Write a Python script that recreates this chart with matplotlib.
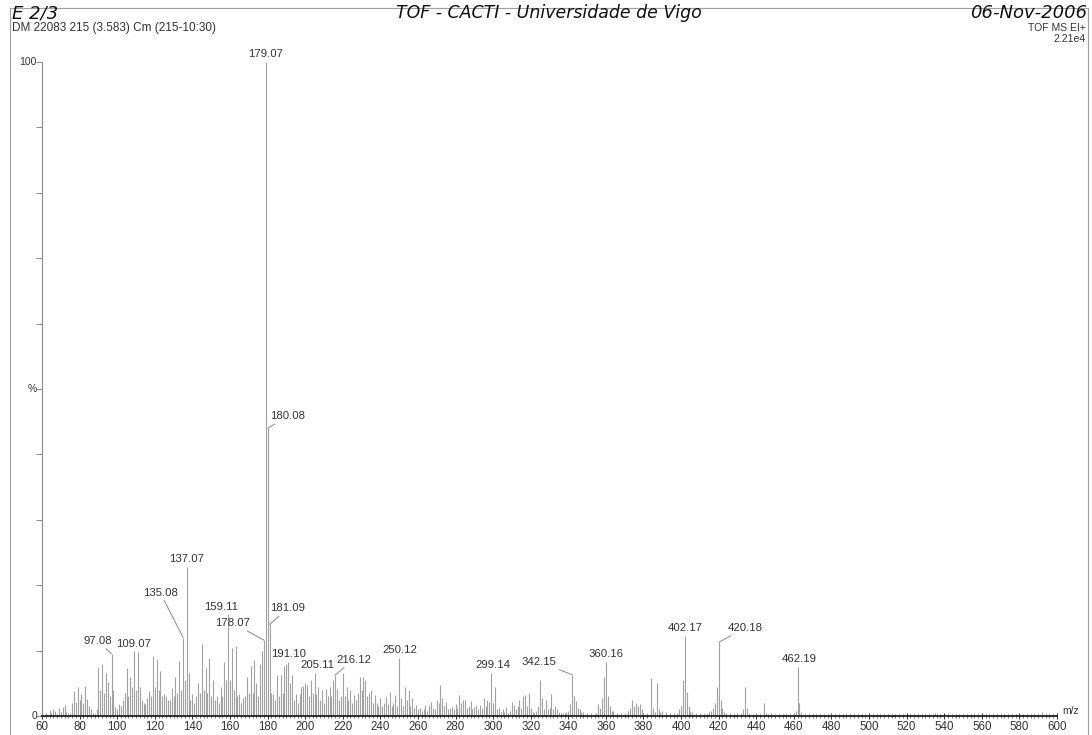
import matplotlib
matplotlib.use("Agg")
import matplotlib.pyplot as plt
from matplotlib.lines import Line2D
from matplotlib.ticker import MultipleLocator

# ---------------- data (m/z, relative intensity %) ----------------
mz_a = [62, 64, 65, 66, 67, 69, 70, 71, 72, 73,
        75, 76, 77, 78, 79, 80, 81, 82, 83, 84,
        85, 86, 87, 89, 90, 91, 92, 93, 94, 95,
        96, 97.08, 98, 99, 100, 101, 102, 103, 104, 105,
        106, 107, 108, 109.07, 110, 111, 112, 113, 114, 115,
        116, 117, 118, 119, 120, 121, 122, 123, 124, 125,
        126, 127, 128, 129, 130]
int_a = [0.5, 0.9, 0.4, 1.0, 0.8, 1.2, 0.6, 1.4, 1.7, 0.6,
         0.4, 2.0, 3.8, 2.2, 4.4, 2.5, 3.3, 2.0, 4.6, 2.6,
         1.5, 1.1, 0.5, 1.0, 7.5, 4.0, 7.9, 3.5, 6.6, 5.2,
         3.0, 9.5, 4.0, 1.3, 1.0, 1.8, 1.5, 2.5, 3.5, 7.4,
         3.0, 5.9, 4.5, 10.0, 4.0, 9.8, 4.5, 2.5, 2.0, 1.8,
         2.8, 3.8, 3.0, 9.2, 4.5, 8.7, 4.0, 6.9, 3.0, 3.3,
         3.0, 2.5, 2.5, 4.3, 3.0]

mz_b = [131, 132, 133, 134, 135.08, 136, 137.07, 138, 139, 140,
        141, 142, 143, 144, 145, 146, 147, 148, 149, 150,
        151, 152, 153, 154, 155, 156, 157, 158, 159.11, 160,
        161, 162, 163, 164, 165, 166, 167, 168, 169, 170,
        171, 172, 173, 174, 175, 176, 177, 178.07, 179.07, 180.08,
        181.09, 182, 183, 184, 185, 186, 187, 188, 189, 190,
        191.10, 192, 193, 194, 195, 196, 197, 198, 199, 200]
int_b = [6.0, 3.5, 8.4, 4.0, 12.0, 5.5, 22.8, 6.6, 2.5, 3.3,
         2.0, 3.0, 5.0, 3.5, 11.0, 4.0, 7.4, 3.5, 8.8, 3.0,
         5.5, 2.5, 3.0, 2.0, 4.5, 3.0, 8.3, 5.5, 15.6, 5.5,
         10.4, 4.0, 10.7, 3.0, 3.3, 2.0, 2.8, 3.0, 6.0, 3.5,
         7.6, 3.5, 8.5, 5.0, 3.0, 7.9, 10.0, 11.6, 100.0, 44.0,
         14.0, 3.5, 3.3, 2.5, 6.3, 3.0, 6.3, 3.5, 7.6, 8.0,
         8.2, 5.0, 6.3, 2.5, 3.3, 2.0, 3.3, 4.5, 4.6, 5.0]

mz_c = [201, 202, 203, 204, 205.11, 206, 207, 208, 209, 210,
        211, 212, 213, 214, 215, 216.12, 217, 218, 219, 220,
        221, 222, 223, 224, 225, 226, 227, 228, 229, 230,
        231, 232, 233, 234, 235, 236, 237, 238, 239, 240,
        241, 242, 243, 244, 245, 246, 247, 248, 249, 250.12,
        251, 252, 253, 254, 255, 256, 257, 258, 259, 260,
        261, 262, 263, 264, 265, 266, 267, 268, 269, 270]
int_c = [4.7, 3.0, 5.5, 3.5, 6.5, 3.3, 4.5, 2.5, 4.0, 2.0,
         4.2, 3.0, 4.5, 3.0, 5.5, 6.3, 4.2, 2.5, 3.0, 6.5,
         3.0, 4.5, 2.5, 4.0, 2.0, 3.2, 2.5, 3.5, 6.0, 4.0,
         6.0, 5.5, 3.0, 3.5, 4.0, 2.0, 3.2, 2.0, 1.5, 2.7,
         1.5, 2.0, 2.9, 1.8, 3.7, 1.5, 2.0, 3.2, 1.5, 8.8,
         2.7, 1.5, 4.5, 2.5, 4.0, 1.5, 2.7, 1.2, 1.7, 1.0,
         1.2, 0.8, 1.0, 1.7, 0.8, 1.7, 2.2, 1.2, 1.0, 2.5]

mz_d = [271, 272, 273, 274, 275, 276, 277, 278, 279, 280,
        281, 282, 283, 284, 285, 286, 287, 288, 289, 290,
        291, 292, 293, 294, 295, 296, 297, 298, 299.14, 300,
        301, 302, 303, 304, 305, 306, 307, 308, 309, 310,
        311, 312, 313, 314, 315, 316, 317, 318, 319, 320,
        321, 322, 323, 324, 325, 326, 327, 328, 329, 330,
        331, 332, 333, 334, 335, 336, 337, 338, 339, 340]
int_d = [2.0, 4.7, 2.7, 1.5, 2.2, 1.0, 1.2, 1.4, 1.0, 1.9,
         1.2, 3.2, 2.0, 2.4, 2.4, 1.2, 1.5, 2.3, 1.0, 1.4,
         1.7, 1.0, 1.7, 1.2, 2.7, 1.5, 2.4, 2.2, 6.6, 2.0,
         4.5, 1.0, 1.2, 0.6, 1.0, 0.6, 1.4, 0.5, 0.8, 2.2,
         1.7, 1.0, 1.5, 2.4, 1.2, 3.0, 3.2, 1.5, 3.5, 1.2,
         0.6, 0.5, 0.8, 1.5, 5.5, 2.7, 1.0, 2.4, 1.0, 1.2,
         3.3, 1.0, 1.5, 1.0, 0.6, 0.4, 0.5, 0.4, 0.6, 0.8]

mz_e = [341, 342.15, 343, 344, 345, 346, 347, 348, 350, 352,
        355, 356, 357, 358, 359, 360.16, 361, 362, 363, 364,
        366, 368, 370, 372, 373, 374, 375, 376, 377, 378,
        379, 380, 382, 384, 385, 386, 387, 388, 389, 390,
        392, 394, 396, 398, 399, 400, 401, 402.17, 403, 404,
        405, 406, 408, 410, 412, 415, 416, 417, 418, 419,
        420.18, 421, 422, 423, 424, 426, 430, 432, 433, 434,
        435, 436, 440, 444, 445, 448, 455, 460, 461, 462.19,
        463, 464, 470]
int_e = [1.9, 6.3, 3.0, 2.3, 1.2, 1.0, 0.6, 0.6, 0.4, 0.4,
         0.5, 1.9, 1.2, 2.7, 6.0, 8.3, 3.0, 1.5, 0.8, 0.8,
         0.5, 0.5, 0.4, 0.8, 1.2, 2.5, 1.5, 2.0, 1.6, 1.8,
         1.0, 0.5, 0.4, 5.8, 1.2, 0.6, 5.0, 1.0, 0.6, 0.8,
         0.6, 0.5, 0.4, 0.5, 1.0, 1.5, 5.5, 12.3, 3.7, 1.5,
         0.8, 0.6, 0.5, 0.4, 0.4, 0.6, 0.8, 1.2, 2.0, 4.4,
         11.3, 2.5, 1.2, 0.6, 0.5, 0.4, 0.4, 0.5, 1.0, 4.4,
         1.2, 0.5, 0.4, 2.0, 0.5, 0.4, 0.3, 0.4, 0.8, 7.5,
         2.0, 0.6, 0.3]

mz_f = [480, 495, 510, 535, 550, 565, 580, 592]
int_f = [0.3, 0.2, 0.2, 0.5, 0.2, 0.2, 0.2, 0.6]

# labelled peaks and the pixel offset of their labels (dx, dy)
peak_labels = ["97.08", "109.07", "135.08", "137.07", "159.11", "178.07",
               "179.07", "180.08", "181.09", "191.10", "205.11", "216.12",
               "250.12", "299.14", "342.15", "360.16", "402.17", "420.18",
               "462.19"]
label_dx = [-14, -1, -23, 0, -7, -31, 0, 20, 18, 0, 3, 18, 0, 1, -33, 0, 0, 26, 1]
label_dy = [8, 2, 40, 3, 2, 12, 3, 7, 11, 3, 3, 10, 3, 3, 8, 3, 3, 9, 3]

x_ticks = list(range(60, 601, 20))

# ---------------- figure ----------------
W, H, DPI = 1092, 735, 100
fig = plt.figure(figsize=(W / DPI, H / DPI), dpi=DPI)
fig.patch.set_facecolor("white")

ax = fig.add_axes([42 / W, 1 - 716 / H, (1057 - 42) / W, (716 - 62) / H])
ax.set_facecolor("white")

mz_all = mz_a + mz_b + mz_c + mz_d + mz_e + mz_f
int_all = int_a + int_b + int_c + int_d + int_e + int_f
ax.vlines(mz_all, 0, int_all, colors="#a2a2a2", linewidth=0.8)

ax.set_xlim(60, 600)
ax.set_ylim(0, 100)

# spines
for s in ["top", "right"]:
    ax.spines[s].set_visible(False)
ax.spines["left"].set_color("#8a8a8a")
ax.spines["left"].set_linewidth(0.8)
ax.spines["bottom"].set_color("#202020")
ax.spines["bottom"].set_linewidth(1.3)

# y ticks
ax.yaxis.set_major_locator(MultipleLocator(10))
ax.set_yticklabels([])
ax.tick_params(axis="y", direction="out", length=4, width=0.7, color="#8a8a8a",
               labelsize=0)
for yv, txt in [(0, "0"), (50, "%"), (100, "100")]:
    ax.text(-0.005, yv, txt, transform=ax.get_yaxis_transform(), ha="right",
            va="center", fontsize=7.5, color="#333333", family="Liberation Sans")

# x ticks
ax.set_xticks(x_ticks)
ax.set_xticklabels([str(v) for v in x_ticks], fontsize=8.3, color="#333333",
                   family="Liberation Sans")
ax.xaxis.set_minor_locator(MultipleLocator(2))
ax.tick_params(axis="x", which="major", direction="inout", length=5, width=0.7,
               color="#303030", pad=1)
ax.tick_params(axis="x", which="minor", direction="inout", length=3, width=0.5,
               color="#404040")
ax.text(1.005, 0.0, "m/z", transform=ax.transAxes, ha="left", va="bottom",
        fontsize=7.5, color="#333333", family="Liberation Sans")

# peak labels
lab_set = {float(l): (dx, dy) for l, dx, dy in zip(peak_labels, label_dx, label_dy)}
px2pt = 72.0 / DPI
for m, h in zip(mz_all, int_all):
    key = round(float(m), 2)
    if key in lab_set:
        dx, dy = lab_set[key]
        leader = abs(dx) > 8 or dy > 5
        ax.annotate(f"{m:.2f}", xy=(m, h), xytext=(dx * px2pt, dy * px2pt),
                    textcoords="offset points", ha="center", va="bottom",
                    fontsize=8.2, color="#333333", family="Liberation Sans",
                    arrowprops=(dict(arrowstyle="-", color="#8a8a8a", lw=0.7,
                                     shrinkA=0, shrinkB=0) if leader else None),
                    annotation_clip=False)

# header texts
fig.text(12 / W, 1 - 13 / H, "E 2/3", ha="left", va="center", fontsize=13,
         style="italic", family="DejaVu Sans", color="#111111")
fig.text(549 / W, 1 - 13 / H, "TOF - CACTI - Universidade de Vigo", ha="center",
         va="center", fontsize=12.5, style="italic", family="DejaVu Sans",
         color="#111111")
fig.text(1087 / W, 1 - 13 / H, "06-Nov-2006", ha="right", va="center",
         fontsize=13, style="italic", family="DejaVu Sans", color="#111111")
fig.text(12 / W, 1 - 28 / H, "DM 22083 215 (3.583) Cm (215-10:30)", ha="left",
         va="center", fontsize=8.5, family="Liberation Sans", color="#333333")
fig.text(1086 / W, 1 - 28 / H, "TOF MS EI+", ha="right", va="center",
         fontsize=7.5, family="Liberation Sans", color="#333333")
fig.text(1086 / W, 1 - 39 / H, "2.21e4", ha="right", va="center",
         fontsize=7.5, family="Liberation Sans", color="#333333")

# page frame
frame_col = "#a0a0a0"
fig.add_artist(Line2D([10 / W, 1088 / W], [1 - 8 / H, 1 - 8 / H],
                      transform=fig.transFigure, color=frame_col, lw=0.8))
fig.add_artist(Line2D([10 / W, 10 / W], [1 - 8 / H, 0], transform=fig.transFigure,
                      color=frame_col, lw=0.8))
fig.add_artist(Line2D([1088 / W, 1088 / W], [1 - 8 / H, 0],
                      transform=fig.transFigure, color=frame_col, lw=0.8))

fig.savefig("out.png", dpi=DPI, facecolor="white")
